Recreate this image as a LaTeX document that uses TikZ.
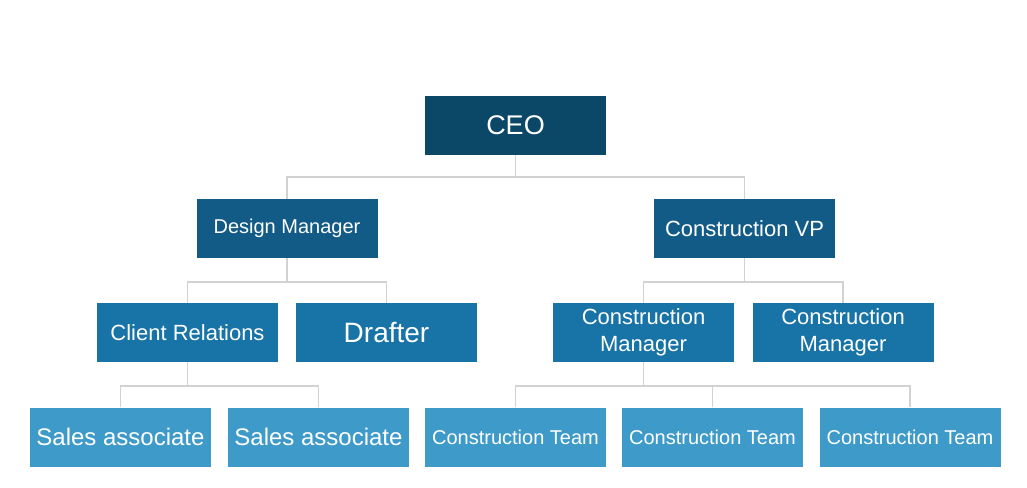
\documentclass[tikz,border=0pt]{standalone}
\usepackage{fontspec}
\setmainfont{Liberation Sans}
\definecolor{LevelOne}{HTML}{0B4766}
\definecolor{LevelTwo}{HTML}{125B87}
\definecolor{LevelThree}{HTML}{1873A7}
\definecolor{LevelFour}{HTML}{3D9AC9}
\definecolor{LinkGray}{HTML}{D2D2D2}
\usetikzlibrary{calc}

\begin{document}
\begin{tikzpicture}[x=0.5pt, y=-0.5pt,
    box/.style={rectangle, minimum width=90.5pt, minimum height=29.5pt,
      inner sep=0pt, text=white, align=center},
    link/.style={draw=LinkGray, line width=0.8pt}]
  \useasboundingbox (0,0) rectangle (1027,487);
  % Top: CEO
  \node[box, fill=LevelOne, font=\fontsize{13.5}{16}\selectfont] (ceo) at (515.5,125.5) {CEO};
  % Second row
  \node[box, fill=LevelTwo, font=\fontsize{10}{12}\selectfont] (design) at (287,228.5) {Design Manager};
  \node[box, fill=LevelTwo, font=\fontsize{11}{13}\selectfont] (vp) at (744.5,228.5) {Construction VP};
  % Third row
  \node[box, fill=LevelThree, font=\fontsize{11}{13}\selectfont] (client) at (187.5,332.5) {Client Relations};
  \node[box, fill=LevelThree, font=\fontsize{14}{16}\selectfont] (drafter) at (386.5,332.5) {Drafter};
  \node[box, fill=LevelThree, font=\fontsize{11}{13.5}\selectfont] (mgrA) at (643.5,332.5) {Construction\\Manager};
  \node[box, fill=LevelThree, font=\fontsize{11}{13.5}\selectfont] (mgrB) at (843,332.5) {Construction\\Manager};
  % Bottom row
  \node[box, fill=LevelFour, font=\fontsize{12}{14}\selectfont] (salesA) at (120.5,437) {Sales associate};
  \node[box, fill=LevelFour, font=\fontsize{12}{14}\selectfont] (salesB) at (318.5,437) {Sales associate};
  \node[box, fill=LevelFour, font=\fontsize{10}{12}\selectfont] (teamA) at (515.5,437) {Construction Team};
  \node[box, fill=LevelFour, font=\fontsize{10}{12}\selectfont] (teamB) at (712.5,437) {Construction Team};
  \node[box, fill=LevelFour, font=\fontsize{10}{12}\selectfont] (teamC) at (910,437) {Construction Team};

  % Bus heights
  \coordinate (busA) at (0,177);
  \coordinate (busB) at (0,282);
  \coordinate (busC) at (0,386);

  % Connectors
  \foreach \kid in {design, vp}
    \draw[link] (ceo.south) -- (ceo.south |- busA) -| (\kid.north);
  \foreach \kid in {client, drafter}
    \draw[link] (design.south) -- (design.south |- busB) -| (\kid.north);
  \foreach \kid in {mgrA, mgrB}
    \draw[link] (vp.south) -- (vp.south |- busB) -| (\kid.north);
  \foreach \kid in {salesA, salesB}
    \draw[link] (client.south) -- (client.south |- busC) -| (\kid.north);
  \foreach \kid in {teamA, teamB, teamC}
    \draw[link] (mgrA.south) -- (mgrA.south |- busC) -| (\kid.north);
\end{tikzpicture}
\end{document}
